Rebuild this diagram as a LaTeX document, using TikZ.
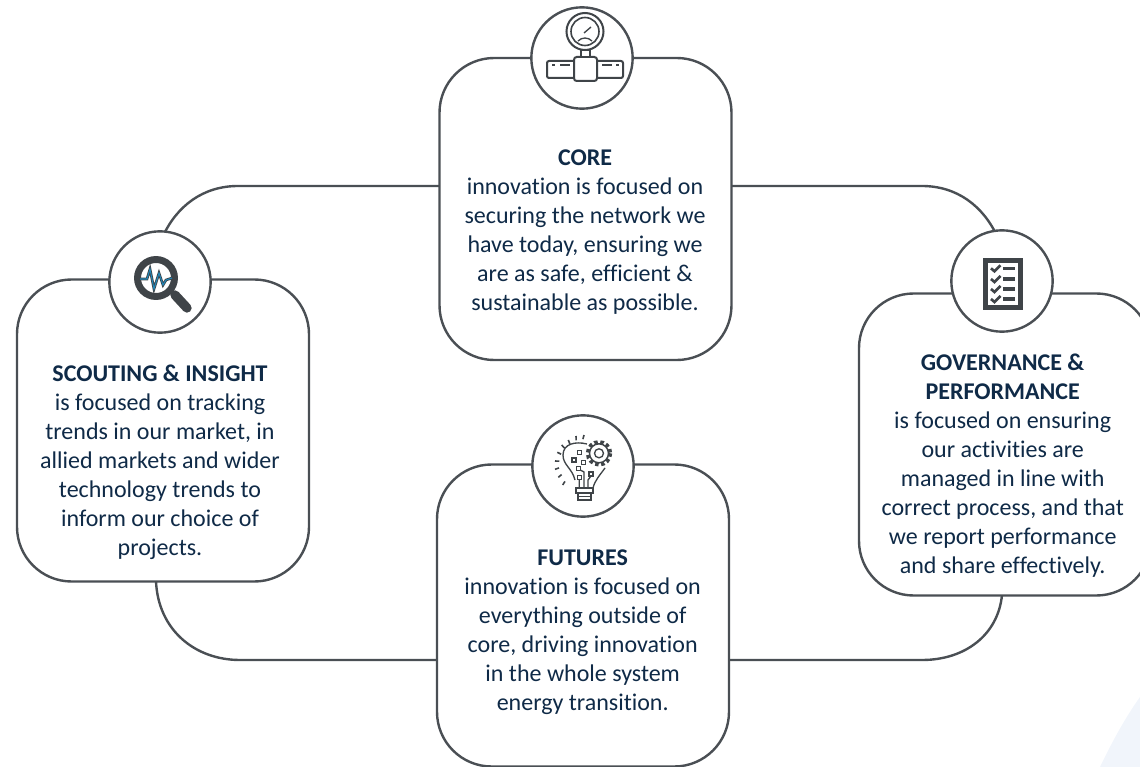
\documentclass[tikz,border=0pt]{standalone}
\usepackage{fontspec}
\usetikzlibrary{calc}
\setmainfont[Ligatures=NoCommon]{Carlito}
\definecolor{ink}{HTML}{0F2A47}
\definecolor{linec}{HTML}{4A4F54}
\definecolor{iconc}{HTML}{3F4448}
\definecolor{wavec}{HTML}{1F86B8}
\definecolor{pale}{HTML}{F1F5FB}
\tikzset{
 x=0.75pt,y=-0.75pt,
 card/.style={draw=linec,line width=1.8pt,fill=white,rounded corners=41pt,minimum width=219pt,minimum height=226.5pt,inner sep=0pt},
 ring/.style={draw=linec,line width=1.8pt,fill=white,circle,inner sep=0pt,minimum size=76pt},
 link/.style={draw=linec,line width=1.8pt},
 label/.style={anchor=north,align=center,text=ink,font=\fontsize{18pt}{21.75pt}\selectfont,inner sep=0pt},
 ico/.style={draw=iconc,line width=1.5pt,fill=white},
 thin ico/.style={draw=iconc,line width=1pt},
}
\begin{document}
\begin{tikzpicture}
\useasboundingbox (0,0) rectangle (1140,767);
\fill[pale] (1140,697) -- (1140,767) -- (1100,767) .. controls (1112,742) and (1125,718) .. (1140,697) -- cycle;
\clip (0,0) rectangle (1140,767);
% connectors
\coordinate (cl) at (439,186); \coordinate (cr) at (732,186);
\coordinate (sa) at (163,236); \coordinate (sb) at (156,581);
\coordinate (ga) at (997,236); \coordinate (gb) at (1002,595);
\coordinate (fl) at (437,660); \coordinate (fr) at (729,660);
\draw[link] (cl) -- (238,186) .. controls (203,186) and (177,206) .. (sa);
\draw[link] (cr) -- (922,186) .. controls (957,186) and (983,206) .. (ga);
\draw[link] (sb) .. controls (158,630) and (195,660) .. (240,660) -- (fl);
\draw[link] (fr) -- (922,660) .. controls (965,660) and (998,635) .. (gb);
% cards
\node[card] (core) at (585.5,209) {};
\node[card] (scout) at (163,430.5) {};
\node[card] (gov) at (1005,444.5) {};
\node[card] (fut) at (583,615.5) {};
% rings
\node[ring] (rc) at (582,58) {};
\node[ring] (rs) at (160,282) {};
\node[ring] (rg) at (1002,281) {};
\node[ring] (rf) at (583,466) {};
% texts
\node[label] at (585,149.5) {\textbf{CORE}\\innovation is focused on\\securing the network we\\have today, ensuring we\\are as safe, efficient \&\\sustainable as possible.};
\node[label] at (160,364.5) {\textbf{SCOUTING \& INSIGHT}\\is focused on tracking\\trends in our market, in\\allied markets and wider\\technology trends to\\inform our choice of\\projects.};
\node[label] at (1002.7,353.5) {\textbf{GOVERNANCE \&}\\\textbf{PERFORMANCE}\\is focused on ensuring\\our activities are\\managed in line with\\correct process, and that\\we report performance\\and share effectively.};
\node[label] at (582.7,549.5) {\textbf{FUTURES}\\innovation is focused on\\everything outside of\\core, driving innovation\\in the whole system\\energy transition.};
% gauge icon
\begin{scope}[shift={(520,0)}]
\draw[ico,rounded corners=1.5pt] (27,61) rectangle (103,78);
\draw[thin ico] (32,65) -- (35,65) (40,65) -- (50,65) (82,65) -- (92,65) (96,65) -- (99,65);
\draw[ico,rounded corners=2pt] (54,57) rectangle (77,81);
\draw[ico,line width=1.2pt] (61,50) rectangle (70,57);
\draw[ico] (65,31.5) circle (18.5);
\draw[ico,line width=1.2pt] (65,31.5) circle (14);
\draw[thin ico] (64,33) -- (71,27);
\draw[thin ico] (58,41) .. controls (62,37) and (68,37) .. (72,41);
\end{scope}
% magnifier icon
\draw[iconc,line width=5.2pt] (156,278) circle (18.5);
\draw[iconc,line width=7pt,line cap=round] (175,295) -- (187,308);
\draw[iconc,line width=2pt] (140,279) -- (147,279) -- (150,269) -- (154,289) -- (159,273) -- (163,285) -- (166,280) -- (172,278);
\draw[wavec,line width=.8pt] (140,279) -- (147,279) -- (150,269) -- (154,289) -- (159,273) -- (163,285) -- (166,280) -- (172,278);
% checklist icon
\draw[iconc,line width=3.75pt,fill=white] (985.2,260.2) rectangle (1020.5,307);
\foreach \yy in {268.3,279,289,299}{
 \draw[iconc,line width=2pt] (991,\yy) -- (994.5,\yy+3) -- (1000.5,\yy-3);
 \fill[iconc] (1003.3,\yy-1.7) rectangle (1015,\yy+1.7);
}
% bulb icon
\begin{scope}[shift={(520,400)}]
\draw[thin ico] (55,80) .. controls (52,68) and (43,65) .. (43,55) .. controls (43,44) and (55,41) .. (67,44);
\draw[thin ico] (85,68) .. controls (80,75) and (75,80) .. (73,88);
\draw[ico,line width=1.1pt] (56,88) rectangle (73,93);
\draw[ico,line width=1.1pt] (58,93) rectangle (71,100);
\draw[thin ico] (58,96.5) -- (71,96.5);
\draw[iconc,line width=2.6pt,dash pattern=on 2.6pt off 2pt,fill=white] (79,53.3) circle (11.5);
\draw[ico,line width=1.1pt] (79,53.3) circle (9.5);
\draw[thin ico] (79,53.3) circle (4.5);
\foreach \a/\b in {59.3/52.3,54/60,63.3/62.3,58.3/68.3,59.3/77.3,71/74}{\draw[thin ico] (\a-2,\b-2) rectangle (\a+2,\b+2);}
\draw[thin ico] (59.3,79.3) -- (59.3,88) (64,88) -- (64,72) -- (60.3,70) (68,88) -- (68,80) -- (71,76);
\coordinate (bc) at (57,62);
\foreach \a/\b in {64/35,56/36,48.3/40,41.7/45,37.3/52.3,35/61,35/69.3,38.3/77.3,42.7/85}{\draw[iconc,line width=1.2pt] (\a,\b) -- ($(\a,\b)!3.2pt!(bc)$);}
\end{scope}
\end{tikzpicture}
\end{document}
